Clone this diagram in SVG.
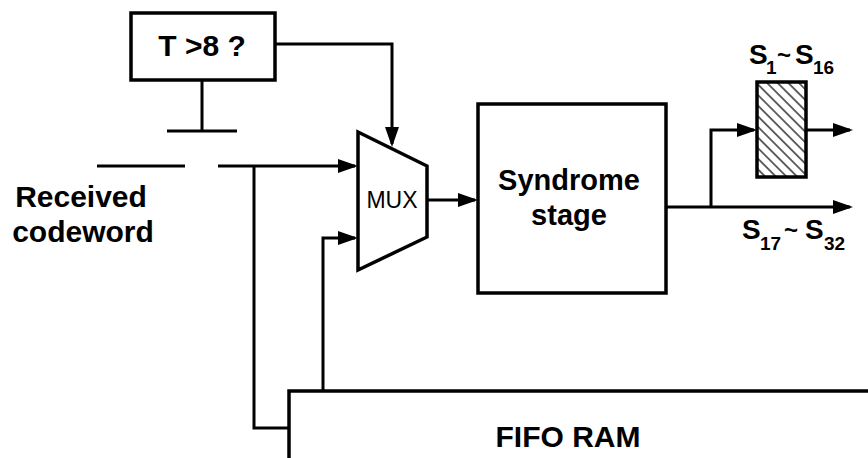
<svg xmlns="http://www.w3.org/2000/svg" width="868" height="458" viewBox="0 0 868 458">
  <style>
    .ln { fill: none; stroke: #000; stroke-width: 3; stroke-linejoin: miter; }
    .box { fill: #fff; stroke: #000; stroke-width: 3.5; }
    .b { font-family: "Liberation Sans", Arial, sans-serif; font-weight: bold; fill: #000; }
    .r { font-family: "Liberation Sans", Arial, sans-serif; fill: #000; }
    .sub { font-size: 19px; }
    .til { font-size: 24px; }
  </style>
  <defs>
    <marker id="arr" viewBox="0 0 20 14" refX="17" refY="7" markerWidth="20" markerHeight="14" markerUnits="userSpaceOnUse" orient="auto">
      <path d="M0,0 L20,7 L0,14 z" fill="#000"/>
    </marker>
    <pattern id="hatch" width="7.5" height="7.5" patternUnits="userSpaceOnUse" patternTransform="rotate(-45)">
      <rect width="7.5" height="7.5" fill="#fff"/>
      <line x1="3.75" y1="0" x2="3.75" y2="7.5" stroke="#333" stroke-width="1.5"/>
    </pattern>
  </defs>

  <g id="connectors">
    <path class="ln" d="M275,44 H392 V144" marker-end="url(#arr)"/>
    <path class="ln" d="M202,80 V131"/>
    <path class="ln" d="M167,131 H237"/>
    <path class="ln" d="M97,166 H185"/>
    <path class="ln" d="M218,166 H355" marker-end="url(#arr)"/>
    <path class="ln" d="M254,166 V428 H289"/>
    <path class="ln" d="M323,391 V238 H355" marker-end="url(#arr)"/>
    <path class="ln" d="M427,200 H475" marker-end="url(#arr)"/>
    <path class="ln" d="M666,207 H850" marker-end="url(#arr)"/>
    <path class="ln" d="M711,207 V130 H754" marker-end="url(#arr)"/>
    <path class="ln" d="M806,130 H850" marker-end="url(#arr)"/>
  </g>

  <g id="t8">
    <rect class="box" x="131" y="13" width="144" height="67"/>
    <text class="b" x="202" y="56" font-size="30" text-anchor="middle">T &gt;8 ?</text>
  </g>

  <g id="received">
    <text class="b" x="81" y="207" font-size="30" text-anchor="middle">Received</text>
    <text class="b" x="83" y="242" font-size="30" text-anchor="middle">codeword</text>
  </g>

  <g id="mux">
    <path class="box" d="M358,132 L427,166 L427,237 L358,270 Z"/>
    <text class="r" x="392" y="208" font-size="23" text-anchor="middle">MUX</text>
  </g>

  <g id="syndrome">
    <rect class="box" x="478" y="104" width="188" height="189"/>
    <text class="b" x="569" y="190" font-size="29" text-anchor="middle">Syndrome</text>
    <text class="b" x="569" y="225" font-size="29" text-anchor="middle">stage</text>
  </g>

  <g id="register">
    <rect x="757" y="82" width="49" height="95" fill="url(#hatch)" stroke="#000" stroke-width="3.5"/>
  </g>

  <g id="s1-label">
    <text class="b" font-size="28"><tspan x="749" y="64">S</tspan><tspan class="sub" x="766" y="74">1</tspan><tspan class="til" x="777" y="63">~</tspan><tspan x="795" y="64">S</tspan><tspan class="sub" x="813" y="74">16</tspan></text>
  </g>

  <g id="s17-label">
    <text class="b" font-size="28"><tspan x="742" y="239">S</tspan><tspan class="sub" x="760" y="250">17</tspan><tspan class="til" x="784" y="238">~</tspan><tspan x="805" y="239">S</tspan><tspan class="sub" x="824" y="250">32</tspan></text>
  </g>

  <g id="fifo">
    <path class="box" d="M289,458 V391 H870"/>
    <text class="b" x="568" y="447" font-size="30" text-anchor="middle">FIFO RAM</text>
  </g>
</svg>
